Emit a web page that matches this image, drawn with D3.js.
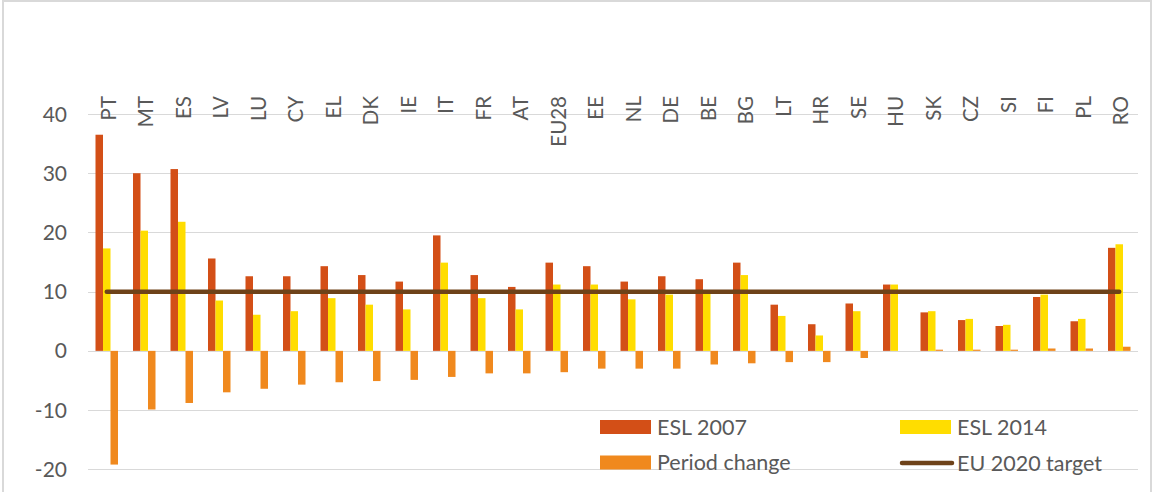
<!DOCTYPE html>
<html>
<head>
<meta charset="utf-8">
<script src="https://cdn.jsdelivr.net/npm/d3@7"></script>
<style>
  body { margin: 0; background: #fff; }
  svg text { font-family: Lato, "Open Sans", sans-serif; fill: #595959; }
</style>
</head>
<body>
<svg id="chart"></svg>
<script>
// Data
const countries = ["PT", "MT", "ES", "LV", "LU", "CY", "EL", "DK", "IE", "IT", "FR", "AT", "EU28", "EE",
  "NL", "DE", "BE", "BG", "LT", "HR", "SE", "HU", "SK", "CZ", "SI", "FI", "PL", "RO"];
const esl2007 = [36.5, 30.0, 30.7, 15.6, 12.6, 12.6, 14.3, 12.8, 11.7, 19.5, 12.8, 10.8, 14.9, 14.3,
  11.7, 12.6, 12.1, 14.9, 7.8, 4.5, 8.0, 11.2, 6.5, 5.2, 4.2, 9.1, 5.0, 17.4];
const esl2014 = [17.3, 20.3, 21.8, 8.5, 6.1, 6.7, 8.9, 7.8, 7.0, 14.9, 8.9, 7.0, 11.2, 11.2,
  8.7, 9.5, 9.8, 12.8, 5.9, 2.6, 6.7, 11.2, 6.7, 5.4, 4.4, 9.5, 5.4, 18.0];
const periodChange = [-19.2, -9.9, -8.8, -7.0, -6.4, -5.7, -5.3, -5.1, -4.9, -4.4, -3.8, -3.8, -3.6, -3.0,
  -3.0, -3.0, -2.3, -2.1, -1.9, -1.9, -1.2, 0.0, 0.2, 0.2, 0.2, 0.4, 0.4, 0.7];
const euTarget = 10;
const seriesNames = ["ESL 2007", "ESL 2014", "Period change"];
const yTicks = [-20, -10, 0, 10, 20, 30, 40];

const colors = { "ESL 2007": "#D34F17", "ESL 2014": "#FFDD00", "Period change": "#F0891E" };
const targetColor = "#6E4219";

// Canvas
const W = 1154, H = 492;
const plot = { left: 88, right: 1138, top: 114, bottom: 469.3 };

const svg = d3.select("#chart")
  .attr("width", W)
  .attr("height", H);

// Outer frame
svg.append("rect")
  .attr("x", 3).attr("y", 1)
  .attr("width", 1148).attr("height", 520)
  .attr("fill", "none")
  .attr("stroke", "#d9d9d9")
  .attr("stroke-width", 2);

// Scales
const x = d3.scaleBand()
  .domain(countries)
  .range([plot.left, plot.right]);

const x1 = d3.scaleBand()
  .domain(seriesNames)
  .range([0, x.bandwidth()])
  .paddingOuter(1);

const y = d3.scaleLinear()
  .domain([-20, 40])
  .range([plot.bottom, plot.top]);

// Gridlines
svg.append("g")
  .selectAll("line")
  .data(yTicks)
  .enter()
  .append("line")
  .attr("x1", plot.left)
  .attr("x2", plot.right)
  .attr("y1", d => Math.round(y(d)) + 0.5)
  .attr("y2", d => Math.round(y(d)) + 0.5)
  .attr("stroke", "#d9d9d9")
  .attr("stroke-width", 1);

// Y axis labels
svg.append("g")
  .selectAll("text")
  .data(yTicks)
  .enter()
  .append("text")
  .attr("x", 67)
  .attr("y", d => y(d))
  .attr("dy", "0.36em")
  .attr("text-anchor", "end")
  .style("font-size", "21px")
  .text(d => d);

// Country labels on top, rotated
svg.append("g")
  .selectAll("text")
  .data(countries)
  .enter()
  .append("text")
  .attr("transform", d => "translate(" + (x(d) + x.bandwidth() / 2 + 1.5) + ",96) rotate(-90)")
  .attr("dy", "0.36em")
  .attr("text-anchor", "end")
  .style("font-size", "20.5px")
  .text(d => d);

// Bars
const rows = countries.map((c, i) => ({
  country: c,
  values: [
    { key: "ESL 2007", value: esl2007[i] },
    { key: "ESL 2014", value: esl2014[i] },
    { key: "Period change", value: periodChange[i] }
  ]
}));

svg.append("g")
  .selectAll("g")
  .data(rows)
  .enter()
  .append("g")
  .attr("transform", d => "translate(" + x(d.country) + ",0)")
  .selectAll("rect")
  .data(d => d.values)
  .enter()
  .append("rect")
  .attr("x", d => x1(d.key))
  .attr("y", d => y(Math.max(0, d.value)))
  .attr("width", x1.bandwidth())
  .attr("height", d => Math.abs(y(d.value) - y(0)))
  .attr("fill", d => colors[d.key]);

// EU 2020 target line
const xMid = c => x(c) + x1("ESL 2014") + x1.bandwidth() / 2;
svg.append("line")
  .attr("x1", xMid(countries[0]))
  .attr("x2", xMid(countries[countries.length - 1]))
  .attr("y1", y(euTarget))
  .attr("y2", y(euTarget))
  .attr("stroke", targetColor)
  .attr("stroke-width", 4.5)
  .attr("stroke-linecap", "round");

// Legend
const legend = svg.append("g").style("font-size", "21.5px");
const legendItems = [
  { name: "ESL 2007", x: 600, y: 427, type: "rect" },
  { name: "ESL 2014", x: 900, y: 427, type: "rect" },
  { name: "Period change", x: 600, y: 462.5, type: "rect" },
  { name: "EU 2020 target", x: 900, y: 463, type: "line" }
];

legendItems.forEach(item => {
  if (item.type === "rect") {
    legend.append("rect")
      .attr("x", item.x).attr("y", item.y - 7)
      .attr("width", 51).attr("height", 14)
      .attr("fill", colors[item.name]);
  } else {
    legend.append("line")
      .attr("x1", item.x + 2).attr("x2", item.x + 52)
      .attr("y1", item.y).attr("y2", item.y)
      .attr("stroke", targetColor)
      .attr("stroke-width", 4.5)
      .attr("stroke-linecap", "round");
  }
  legend.append("text")
    .attr("x", item.x + 57)
    .attr("y", item.y)
    .attr("dy", "0.36em")
    .text(item.name);
});
</script>
</body>
</html>
